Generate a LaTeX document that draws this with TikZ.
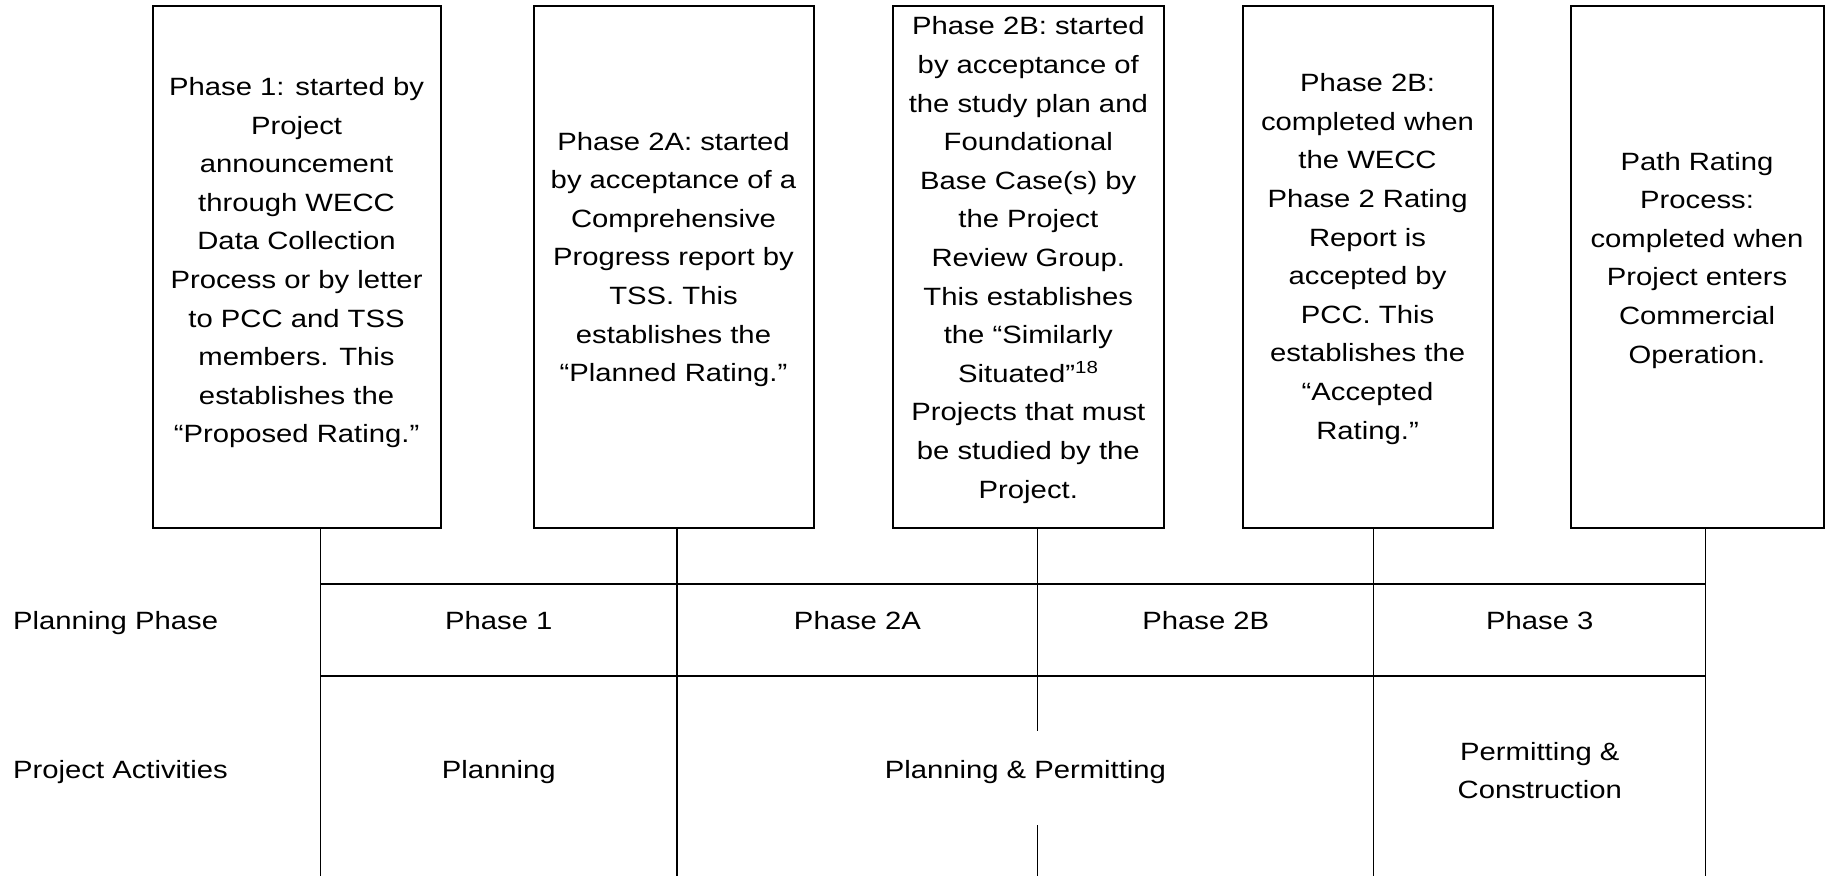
\documentclass[tikz,border=0pt]{standalone}
\usepackage{fontspec}
\setmainfont{Liberation Sans}[FakeStretch=1.17]

% centred stack of lines whose baseline is that of its first line
\newcommand{\linestack}[1]{\vtop{\hsize=400pt\centering #1\par}}

\tikzset{
  phasebox/.style={draw, line width=2pt, rectangle, inner sep=0pt},
  boxtext/.style={inner sep=0pt, anchor=base},
  celltext/.style={inner sep=0pt, anchor=base},
  rowlabel/.style={inner sep=0pt, anchor=base west},
  gridline/.style={line width=1.7pt},
  tickline/.style={line width=1.3pt},
}

\begin{document}
\begin{tikzpicture}[x=1pt, y=-1pt, font=\fontsize{25}{38.6}\selectfont]
\useasboundingbox (0,0) rectangle (1827,876);

% milestone boxes
\node[phasebox, minimum width=287.9pt, minimum height=522.5pt] (b1) at (296.55,266.75) {};
\node[phasebox, minimum width=280pt,   minimum height=522.5pt] (b2) at (673.5,266.75) {};
\node[phasebox, minimum width=271.4pt, minimum height=522.5pt] (b3) at (1028.3,266.75) {};
\node[phasebox, minimum width=249.9pt, minimum height=522.5pt] (b4) at (1367.55,266.75) {};
\node[phasebox, minimum width=253pt,   minimum height=522.5pt] (b5) at (1697,266.75) {};

% milestone descriptions
\node[boxtext] (t1) at (296.55,95.5) {\linestack{Phase 1: started by\\Project\\announcement\\through WECC\\Data Collection\\Process or by letter\\to PCC and TSS\\members. This\\establishes the\\“Proposed Rating.”}};
\node[boxtext] (t2) at (673.5,150) {\linestack{Phase 2A: started\\by acceptance of a\\Comprehensive\\Progress report by\\TSS. This\\establishes the\\“Planned Rating.”}};
\node[boxtext] (t3) at (1028.3,34.9) {\linestack{Phase 2B: started\\by acceptance of\\the study plan and\\Foundational\\Base Case(s) by\\the Project\\Review Group.\\This establishes\\the “Similarly\\Situated”\textsuperscript{18}\\Projects that must\\be studied by the\\Project.}};
\node[boxtext] (t4) at (1367.55,91.7) {\linestack{Phase 2B:\\completed when\\the WECC\\Phase 2 Rating\\Report is\\accepted by\\PCC. This\\establishes the\\“Accepted\\Rating.”}};
\node[boxtext] (t5) at (1697,170) {\linestack{Path Rating\\Process:\\completed when\\Project enters\\Commercial\\Operation.}};

% ends of the dividers at the bottom edge
\coordinate (v1) at (320.6,876);
\coordinate (v2) at (677,876);
\coordinate (v3) at (1037.8,876);
\coordinate (v4) at (1373.8,876);
\coordinate (v5) at (1705.8,876);
% break in the middle divider around the activity label
\coordinate (g3top) at (1037.8,731);
\coordinate (g3bot) at (1037.8,825);

% dividers hanging from the boxes
\draw[tickline] (b1.south -| v1) -- (v1);
\draw[tickline] (b2.south -| v2) -- (v2);
\draw[tickline] (b3.south -| v3) -- (g3top);
\draw[tickline] (g3bot) -- (v3);
\draw[tickline] (b4.south -| v4) -- (v4);
\draw[tickline] (b5.south -| v5) -- (v5);

% row rules
\coordinate (r1l) at (320.6,584);
\coordinate (r1r) at (1705.8,584);
\coordinate (r2l) at (320.6,676);
\coordinate (r2r) at (1705.8,676);
\draw[gridline] (r1l) -- (r1r);
\draw[gridline] (r2l) -- (r2r);

% row headings
\node[rowlabel] (lphase) at (13,629.3) {Planning Phase};
\node[rowlabel] (lact) at (13,778) {Project Activities};

% planning phase cells
\node[celltext] (p1) at (498.8,629.3) {Phase 1};
\node[celltext] (p2a) at (857.4,629.3) {Phase 2A};
\node[celltext] (p2b) at (1205.8,629.3) {Phase 2B};
\node[celltext] (p3) at (1539.8,629.3) {Phase 3};

% project activity cells
\node[celltext] (a1) at (498.8,778) {Planning};
\node[celltext] (a2) at (1025.4,778) {Planning \& Permitting};
\node[celltext] (a3) at (1539.8,760) {\linestack{Permitting \&\\Construction}};
\end{tikzpicture}
\end{document}
